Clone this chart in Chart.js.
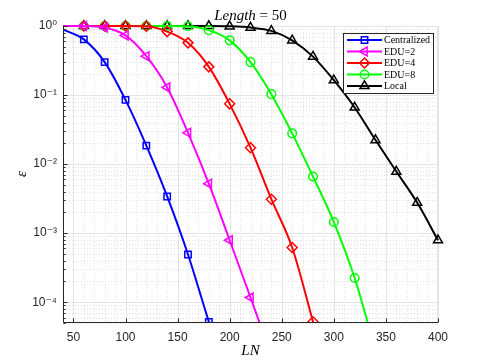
<!DOCTYPE html>
<html><head><meta charset="utf-8">
<script src="https://cdn.jsdelivr.net/npm/chart.js@4"></script>
<style>html,body{margin:0;padding:0;background:#fff}</style>
</head><body>
<canvas id="c" width="485" height="363"></canvas>
<script>
// ---- data ----
const LN = [40,60,80,100,120,140,160,180,200,220,240,260,280,300,320,340,360,380,400];
const centralized = [0.89,0.64,0.30,0.085,0.0185,0.0034,4.9e-4,5.2e-5,6e-6,null,null,null,null,null,null,null,null,null,null];
const edu2 = [1,1,0.95,0.73,0.365,0.129,0.0284,0.0052,7.9e-4,1.17e-4,1.7e-5,null,null,null,null,null,null,null,null];
const edu4 = [1,1,1,1,0.99,0.83,0.57,0.256,0.0746,0.0173,0.0031,6.2e-4,5.2e-5,4e-6,null,null,null,null,null];
const edu8 = [1,1,1,1,1,1,0.99,0.87,0.62,0.30,0.103,0.0279,0.0066,1.45e-3,2.24e-4,2e-5,null,null,null];
const local = [1,1,1,1,1,1,1,1,0.99,0.95,0.85,0.62,0.36,0.164,0.066,0.0223,0.0078,2.77e-3,7.9e-4];
const seriesLabels = ['Centralized','EDU=2','EDU=4','EDU=8','Local'];
const xTickValues = [50,100,150,200,250,300,350,400];
const yTickValues = [1e-4,1e-3,1e-2,1e-1,1];
const yTickLabels = ['10\u207B\u2074','10\u207B\u00B3','10\u207B\u00B2','10\u207B\u00B9','10\u2070'];
const titleItalic = 'Length';
const titleRest = ' = 50';
const xLabel = 'LN';
const yLabel = '\u03B5';
const X_MIN = 40, X_MAX = 400, Y_MIN = 5e-5, Y_MAX = 1;

const styles = [
  {color:'#0000ff', pointStyle:'rect', rotation:0, radius:4.5},
  {color:'#ff00ff', pointStyle:'triangle', rotation:-90, radius:5.2},
  {color:'#ff0000', pointStyle:'rectRot', rotation:0, radius:5},
  {color:'#00ff00', pointStyle:'circle', rotation:0, radius:4.3},
  {color:'#000000', pointStyle:'triangle', rotation:0, radius:5.2}
];
const seriesData = [centralized, edu2, edu4, edu8, local];

const datasets = seriesData.map((vals, i) => {
  const st = styles[i];
  return {
    label: seriesLabels[i],
    data: LN.map((x, j) => ({x: x, y: vals[j]})),
    borderColor: st.color,
    backgroundColor: 'rgba(0,0,0,0)',
    borderWidth: 2,
    pointStyle: st.pointStyle,
    rotation: st.rotation,
    pointRadius: LN.map((x, j) => j === 0 ? 0 : st.radius),
    pointHoverRadius: 0,
    pointBorderWidth: 1.5,
    pointBorderColor: st.color,
    pointBackgroundColor: 'rgba(0,0,0,0)',
    cubicInterpolationMode: 'monotone',
    spanGaps: false,
    clip: {left: 0, top: 12, right: 12, bottom: 0}
  };
});

const AX = '#262626';

const gridPlugin = {
  id: 'matlabGrid',
  beforeDatasetsDraw(chart) {
    const ctx = chart.ctx, a = chart.chartArea, xs = chart.scales.x, ys = chart.scales.y;
    ctx.save();
    // minor grid
    ctx.strokeStyle = '#d4d4d4'; ctx.lineWidth = 0.7; ctx.setLineDash([1, 2]);
    for (let e = -5; e <= 0; e++) for (let m = 2; m <= 9; m++) {
      const v = m * Math.pow(10, e);
      if (v < Y_MIN || v > Y_MAX) continue;
      const py = Math.round(ys.getPixelForValue(v)) + 0.5;
      ctx.beginPath(); ctx.moveTo(a.left, py); ctx.lineTo(a.right, py); ctx.stroke();
    }
    for (let v = X_MIN; v <= X_MAX; v += 10) {
      if (v % 50 === 0) continue;
      const px = Math.round(xs.getPixelForValue(v)) + 0.5;
      ctx.beginPath(); ctx.moveTo(px, a.top); ctx.lineTo(px, a.bottom); ctx.stroke();
    }
    // major grid
    ctx.setLineDash([]); ctx.strokeStyle = '#e4e4e4'; ctx.lineWidth = 1;
    yTickValues.forEach(v => {
      const py = Math.round(ys.getPixelForValue(v)) + 0.5;
      ctx.beginPath(); ctx.moveTo(a.left, py); ctx.lineTo(a.right, py); ctx.stroke();
    });
    xTickValues.forEach(v => {
      const px = Math.round(xs.getPixelForValue(v)) + 0.5;
      ctx.beginPath(); ctx.moveTo(px, a.top); ctx.lineTo(px, a.bottom); ctx.stroke();
    });
    // top / right light borders
    ctx.beginPath();
    ctx.moveTo(a.left, Math.round(a.top) + 0.5); ctx.lineTo(a.right, Math.round(a.top) + 0.5);
    ctx.moveTo(Math.round(a.right) - 0.5, a.top); ctx.lineTo(Math.round(a.right) - 0.5, a.bottom);
    ctx.stroke();
    ctx.restore();
  },
  afterDatasetsDraw(chart) {
    const ctx = chart.ctx, a = chart.chartArea, xs = chart.scales.x, ys = chart.scales.y;
    ctx.save();
    ctx.strokeStyle = AX; ctx.lineWidth = 1;
    const L = Math.round(a.left) + 0.5, B = Math.round(a.bottom) - 0.5;
    ctx.beginPath();
    ctx.moveTo(L, a.top); ctx.lineTo(L, B);
    ctx.lineTo(a.right, B);
    ctx.stroke();
    // ticks
    ctx.beginPath();
    yTickValues.forEach(v => { const py = Math.round(ys.getPixelForValue(v)) + 0.5; ctx.moveTo(L, py); ctx.lineTo(L + 4, py); });
    for (let e = -5; e <= 0; e++) for (let m = 2; m <= 9; m++) {
      const v = m * Math.pow(10, e);
      if (v < Y_MIN || v > Y_MAX) continue;
      const py = Math.round(ys.getPixelForValue(v)) + 0.5; ctx.moveTo(L, py); ctx.lineTo(L + 2, py);
    }
    xTickValues.forEach(v => { const px = Math.round(xs.getPixelForValue(v)) + 0.5; ctx.moveTo(px, B); ctx.lineTo(px, B - 4); });
    ctx.stroke();
    ctx.restore();
  },
  afterDraw(chart) {
    const ctx = chart.ctx, a = chart.chartArea;
    ctx.save();
    // title
    const cx = (a.left + a.right) / 2;
    ctx.fillStyle = '#000';
    ctx.textBaseline = 'alphabetic';
    ctx.font = 'italic 15px "Liberation Serif"';
    const w1 = ctx.measureText(titleItalic).width;
    ctx.font = '15px "Liberation Serif"';
    const w2 = ctx.measureText(titleRest).width;
    let tx = cx - (w1 + w2) / 2;
    ctx.textAlign = 'left';
    ctx.font = 'italic 15px "Liberation Serif"';
    ctx.fillText(titleItalic, tx, 20);
    ctx.font = '15px "Liberation Serif"';
    ctx.fillText(titleRest, tx + w1, 20);
    // x label
    ctx.font = 'italic 15px "Liberation Serif"';
    ctx.textAlign = 'center'; ctx.textBaseline = 'middle';
    ctx.fillText(xLabel, cx, 351);
    // y label
    ctx.save();
    ctx.translate(22, 174); ctx.rotate(-Math.PI / 2);
    ctx.fillText(yLabel, 0, 0);
    ctx.restore();
    // legend
    const lx = 343.5, ly = 33.5, lw = 90, lh = 60;
    ctx.fillStyle = '#fff';
    ctx.fillRect(lx, ly, lw, lh);
    ctx.strokeStyle = AX; ctx.lineWidth = 1;
    ctx.strokeRect(lx, ly, lw, lh);
    ctx.font = '10px "Liberation Serif"';
    ctx.textAlign = 'left'; ctx.textBaseline = 'middle';
    seriesLabels.forEach((lab, i) => {
      const y = 40 + i * 11.5;
      const st = styles[i];
      ctx.strokeStyle = st.color; ctx.lineWidth = 2;
      ctx.beginPath(); ctx.moveTo(347, y); ctx.lineTo(382, y); ctx.stroke();
      ctx.lineWidth = 1.5;
      ctx.fillStyle = 'rgba(0,0,0,0)';
      Chart.helpers.drawPoint(ctx, {pointStyle: st.pointStyle, rotation: st.rotation, radius: st.radius, borderWidth: 1.5}, 364.5, y);
      ctx.fillStyle = '#000';
      ctx.fillText(lab, 384, y + 0.5);
    });
    ctx.restore();
  }
};

new Chart(document.getElementById('c'), {
  type: 'line',
  data: {datasets: datasets},
  options: {
    responsive: false,
    animation: false,
    devicePixelRatio: 1,
    layout: {padding: {left: 0, right: 47, top: 26, bottom: 0}},
    plugins: {legend: {display: false}, title: {display: false}, tooltip: {enabled: false}},
    events: [],
    scales: {
      x: {
        type: 'linear', min: X_MIN, max: X_MAX,
        grid: {display: false, drawTicks: false}, border: {display: false},
        afterBuildTicks: s => { s.ticks = xTickValues.map(v => ({value: v})); },
        afterFit: s => { s.height = 40; },
        ticks: {color: AX, font: {family: '"Liberation Sans", Arial', size: 12}, padding: 7, maxRotation: 0, autoSkip: false,
          callback: v => String(v)}
      },
      y: {
        type: 'logarithmic', min: Y_MIN, max: Y_MAX,
        grid: {display: false, drawTicks: false}, border: {display: false},
        afterBuildTicks: s => { s.ticks = yTickValues.map(v => ({value: v})); },
        afterFit: s => { s.width = 63; },
        ticks: {color: AX, font: {family: '"Liberation Sans", "DejaVu Sans", Arial', size: 12}, padding: 6, autoSkip: false,
          callback: (v) => { const k = yTickValues.findIndex(t => Math.abs(Math.log10(t) - Math.log10(v)) < 1e-6); return k >= 0 ? yTickLabels[k] : ''; }}
      }
    }
  },
  plugins: [gridPlugin]
});
</script>
</body></html>
